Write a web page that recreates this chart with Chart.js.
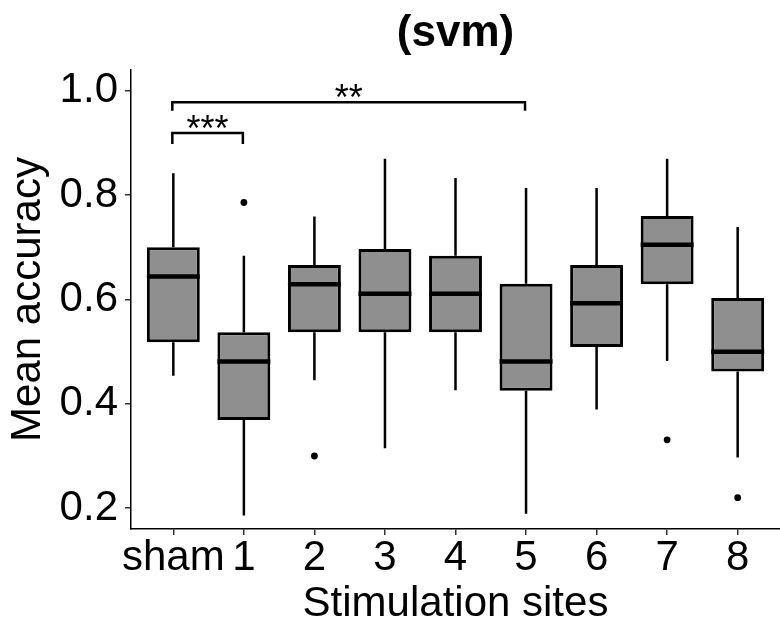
<!DOCTYPE html>
<html>
<head>
<meta charset="utf-8">
<script src="https://cdn.jsdelivr.net/npm/chart.js@4.4.1/dist/chart.umd.min.js"></script>
<style>
  html, body { margin: 0; padding: 0; background: #fff; }
</style>
</head>
<body>
<canvas id="chart" width="780" height="625"></canvas>
<script>
// stimulation sites on the x axis
const sites = ["sham", "1", "2", "3", "4", "5", "6", "7", "8"];

// box plot summaries
const whiskerLow  = [0.454, 0.186, 0.445, 0.315, 0.426, 0.189, 0.389, 0.482, 0.297];
const q1          = [0.518, 0.369, 0.537, 0.537, 0.537, 0.425, 0.509, 0.629, 0.462];
const medians     = [0.644, 0.481, 0.629, 0.611, 0.611, 0.481, 0.593, 0.705, 0.500];
const q3          = [0.700, 0.537, 0.666, 0.697, 0.684, 0.630, 0.666, 0.760, 0.603];
const whiskerHigh = [0.842, 0.684, 0.759, 0.870, 0.833, 0.814, 0.814, 0.870, 0.739];

// outliers (index into sites, value)
const outlierSite  = [1, 2, 7, 8];
const outlierValue = [0.786, 0.300, 0.331, 0.220];

const yTicks = [0.2, 0.4, 0.6, 0.8, 1.0];

// significance brackets
const bracketFrom   = [0, 0];
const bracketTo     = [1, 5];
const bracketTop    = [0.919, 0.978];
const bracketTip    = [0.898, 0.962];
const bracketLabels = ["***", "**"];

const FONT = '"Liberation Sans", Arial, Helvetica, sans-serif';
Chart.defaults.font.family = FONT;
Chart.defaults.color = "#000";

const boxParts = {
    id: "boxParts",
    beforeDatasetsDraw(chart) {
        const { ctx, scales: { x, y } } = chart;
        ctx.save();
        ctx.strokeStyle = "#000";
        ctx.lineWidth = 2.5;
        sites.forEach((_, i) => {
            const px = x.getPixelForValue(i);
            ctx.beginPath();
            ctx.moveTo(px, y.getPixelForValue(whiskerHigh[i]));
            ctx.lineTo(px, y.getPixelForValue(q3[i]));
            ctx.moveTo(px, y.getPixelForValue(q1[i]));
            ctx.lineTo(px, y.getPixelForValue(whiskerLow[i]));
            ctx.stroke();
        });
        ctx.restore();
    },
    afterDatasetDraw(chart, args) {
        if (args.index !== 0) return;
        const { ctx, scales: { y } } = chart;
        const bars = chart.getDatasetMeta(0).data;
        ctx.save();
        ctx.strokeStyle = "#000";
        ctx.lineWidth = 4.5;
        bars.forEach((bar, i) => {
            const py = y.getPixelForValue(medians[i]);
            ctx.beginPath();
            ctx.moveTo(bar.x - bar.width / 2, py);
            ctx.lineTo(bar.x + bar.width / 2, py);
            ctx.stroke();
        });
        ctx.restore();
    },
};

const brackets = {
    id: "brackets",
    afterDraw(chart) {
        const { ctx, scales: { x, y } } = chart;
        ctx.save();
        ctx.strokeStyle = "#000";
        ctx.fillStyle = "#000";
        ctx.lineWidth = 2.5;
        ctx.font = "36px " + FONT;
        ctx.textAlign = "center";
        ctx.textBaseline = "alphabetic";
        bracketLabels.forEach((label, i) => {
            const x0 = x.getPixelForValue(bracketFrom[i]) - 1;
            const x1 = x.getPixelForValue(bracketTo[i]) - 1;
            const yTop = y.getPixelForValue(bracketTop[i]);
            const yTip = y.getPixelForValue(bracketTip[i]);
            ctx.beginPath();
            ctx.moveTo(x0, yTip);
            ctx.lineTo(x0, yTop);
            ctx.lineTo(x1, yTop);
            ctx.lineTo(x1, yTip);
            ctx.stroke();
            // glyph sits a little above the bracket
            ctx.fillText(label, (x0 + x1) / 2, yTop + 8);
        });
        ctx.restore();
    },
};

new Chart(document.getElementById("chart"), {
    type: "bar",
    data: {
        datasets: [
            {
                data: sites.map((_, i) => ({ x: i, y: [q1[i], q3[i]] })),
                backgroundColor: "#8f8f8f",
                borderColor: "#000",
                borderWidth: 3,
                borderSkipped: false,
                barPercentage: 0.75,
                categoryPercentage: 1,
            },
            {
                type: "scatter",
                data: outlierSite.map((s, i) => ({ x: s, y: outlierValue[i] })),
                pointRadius: 3.4,
                backgroundColor: "#000",
                borderWidth: 0,
            },
        ],
    },
    options: {
        responsive: false,
        animation: false,
        layout: { padding: 0, autoPadding: false },
        plugins: {
            legend: { display: false },
            tooltip: { enabled: false },
            title: {
                display: true,
                text: "(svm)",
                fullSize: false,
                color: "#000",
                font: { size: 44, weight: "bold", lineHeight: 1 },
                padding: { top: 12, bottom: 14 },
            },
        },
        scales: {
            x: {
                type: "linear",
                min: -0.6,
                max: 8.6,
                offset: false,
                afterBuildTicks: (s) => { s.ticks = sites.map((_, i) => ({ value: i })); },
                afterFit: (s) => {
                    s.height = 96;
                    s.paddingLeft = 0;
                    s.paddingRight = 0;
                },
                ticks: {
                    callback: (v) => sites[v],
                    autoSkip: false,
                    maxRotation: 0,
                    padding: 2,
                    color: "#000",
                    font: { size: 42, lineHeight: 1 },
                },
                grid: { offset: false, drawOnChartArea: false, drawTicks: true, tickLength: 6, color: "#333", lineWidth: 1.5 },
                border: { color: "#000", width: 1.5 },
                title: {
                    display: true,
                    text: "Stimulation sites",
                    color: "#000",
                    font: { size: 42, lineHeight: 1 },
                    padding: 0,
                },
            },
            y: {
                type: "linear",
                min: 0.16,
                max: 1.04,
                afterBuildTicks: (s) => { s.ticks = yTicks.map((v) => ({ value: v })); },
                afterFit: (s) => { s.width = 131; },
                ticks: {
                    callback: (v) => v.toFixed(1),
                    padding: 7,
                    color: "#000",
                    font: { size: 42, lineHeight: 1 },
                },
                grid: { drawOnChartArea: false, drawTicks: true, tickLength: 6, color: "#333", lineWidth: 1.5 },
                border: { color: "#000", width: 1.5 },
                title: {
                    display: true,
                    text: "Mean accuracy",
                    color: "#000",
                    font: { size: 42, lineHeight: 1 },
                    padding: { top: 7, bottom: 0 },
                },
            },
        },
    },
    plugins: [boxParts, brackets],
});
</script>
</body>
</html>
